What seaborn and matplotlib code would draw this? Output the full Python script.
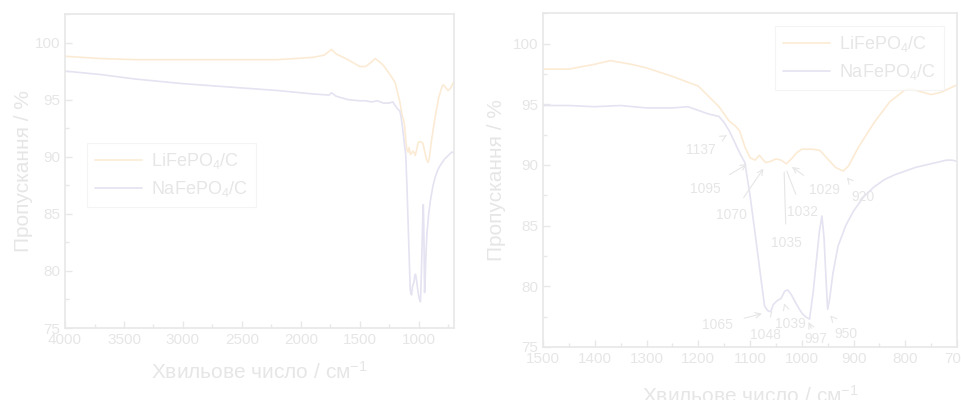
import matplotlib
matplotlib.use("Agg")
import matplotlib.pyplot as plt
import seaborn as sns
import pandas as pd
from matplotlib.ticker import MultipleLocator

# ---------------- data ----------------
li_wn = [4000, 3700, 3400, 3000, 2600, 2200, 1900, 1800, 1740, 1700,
         1600, 1500, 1450, 1400, 1370, 1330, 1300, 1250, 1200, 1160,
         1140, 1128, 1120, 1110, 1100, 1090, 1082, 1070, 1060, 1050, 1040,
         1030, 1020, 1010, 1000, 980, 965, 950, 935, 920, 910,
         890, 860, 830, 800, 790, 775, 750, 730, 700]
li_t = [98.8, 98.6, 98.5, 98.5, 98.5, 98.5, 98.7, 98.9, 99.4, 99.0,
        98.5, 97.9, 97.9, 98.3, 98.6, 98.3, 98.0, 97.3, 96.5, 94.8,
        93.6, 93.2, 92.8, 91.5, 90.6, 90.4, 90.8, 90.2, 90.3, 90.5, 90.4,
        90.1, 90.5, 91.0, 91.3, 91.3, 91.2, 90.5, 89.8, 89.5, 89.9,
        91.5, 93.5, 95.2, 96.2, 96.3, 96.1, 95.8, 96.0, 96.6]

na_wn = [4000, 3700, 3400, 3000, 2600, 2200, 1900, 1760, 1740, 1700,
         1600, 1500, 1450, 1400, 1350, 1300, 1250, 1220, 1200, 1180,
         1160, 1150, 1140, 1130, 1120, 1110, 1100, 1090, 1080, 1072,
         1066, 1060, 1055, 1048, 1040, 1033, 1027, 1020, 1010, 1000,
         993, 985, 978, 972, 966, 961, 957, 953, 950, 946,
         940, 930, 915, 900, 880, 860, 840, 820, 800, 780,
         760, 740, 720, 710, 700]
na_t = [97.5, 97.2, 96.8, 96.4, 96.1, 95.8, 95.5, 95.4, 95.6, 95.3,
        95.0, 94.9, 94.9, 94.8, 94.9, 94.7, 94.7, 94.8, 94.5, 94.2,
        94.0, 93.5, 92.8, 91.9, 91.0, 90.2, 87.5, 84.3, 81.0, 78.4,
        78.0, 77.9, 78.5, 78.8, 79.0, 79.6, 79.7, 79.3, 78.5, 77.8,
        77.5, 77.3, 79.5, 82.0, 84.5, 85.8, 84.0, 80.5, 78.1, 79.0,
        81.0, 83.3, 85.0, 86.2, 87.4, 88.2, 88.8, 89.2, 89.5, 89.8,
        90.0, 90.2, 90.4, 90.4, 90.3]

series_labels = ["LiFePO$_4$/C", "NaFePO$_4$/C"]
x_label = "Хвильове число / см$^{-1}$"
y_label = "Пропускання / %"

# annotations: label, text position (x, y), arrow target (x, y), arrow style
ann_labels = ["1137", "1095", "1070", "1035", "1032", "1029", "920",
              "1065", "1048", "1039", "997", "950"]
ann_text_xy = [(1195, 91.2), (1187, 88.0), (1135, 85.9), (1030, 83.6),
               (998, 86.1), (956, 87.9), (881, 87.4),
               (1163, 76.8), (1071, 75.95), (1022, 76.9), (972, 75.7), (914, 76.1)]
ann_tip_xy = [(1145, 92.45), (1106, 90.06), (1074, 89.7), (1034, 89.4),
              (1029, 89.5), (1019, 89.84), (913, 88.97),
              (1077, 77.75), (1058, 77.9), (1034, 78.6), (987, 77.06), (945, 77.6)]
ann_style = ["->", "->", "->", "-", "-", "->", "->",
             "->", "-", "->", "->", "->"]

# ---------------- style ----------------
sns.set_style("ticks")
plt.rcParams["font.family"] = ["Liberation Sans", "DejaVu Sans"]
plt.rcParams["mathtext.fontset"] = "custom"
plt.rcParams["mathtext.rm"] = "Liberation Sans"
plt.rcParams["mathtext.it"] = "Liberation Sans:italic"
plt.rcParams["mathtext.bf"] = "Liberation Sans:bold"

TXT = "#e6e6e6"
AX = "#e8e8e8"
C_LI = "#fcebd4"
C_NA = "#e5e2f1"

df_li = pd.DataFrame({"wn": li_wn, "T": li_t})
df_na = pd.DataFrame({"wn": na_wn, "T": na_t})

fig = plt.figure(figsize=(9.62, 4.0), dpi=100)
ax1 = fig.add_axes([0.0676, 0.18, 0.4044, 0.785])
ax2 = fig.add_axes([0.5645, 0.1325, 0.4303, 0.8343])


def style_axes(ax, xlim, xmaj, xmin, fs_tick):
    ax.set_xlim(*xlim)
    ax.set_ylim(75, 102.5)
    ax.xaxis.set_major_locator(MultipleLocator(xmaj))
    ax.xaxis.set_minor_locator(MultipleLocator(xmin))
    ax.yaxis.set_major_locator(MultipleLocator(5))
    ax.yaxis.set_minor_locator(MultipleLocator(2.5))
    ax.tick_params(axis="both", which="both", direction="in", colors=AX,
                   labelcolor=TXT, labelsize=fs_tick)
    ax.tick_params(axis="both", which="major", length=5, width=1)
    ax.tick_params(axis="both", which="minor", length=3, width=1)
    ax.tick_params(axis="x", which="both", top=False)
    ax.tick_params(axis="y", which="both", right=False)
    for s in ax.spines.values():
        s.set_visible(True)
        s.set_color(AX)
        s.set_linewidth(1.2)
    ax.set_xlabel(x_label, fontsize=15, color=TXT)
    ax.set_ylabel(y_label, fontsize=15, color=TXT)


for ax in (ax1, ax2):
    sns.lineplot(data=df_li, x="wn", y="T", ax=ax, color=C_LI, lw=1.2,
                 label=series_labels[0])
    sns.lineplot(data=df_na, x="wn", y="T", ax=ax, color=C_NA, lw=1.2,
                 label=series_labels[1])

style_axes(ax1, (4000, 700), 500, 250, 11)
style_axes(ax2, (1500, 700), 100, 50, 11)
ax1.xaxis.labelpad = 10
ax2.xaxis.labelpad = 14
ax1.yaxis.labelpad = 1
ax2.yaxis.labelpad = 5

for ax, anchor in ((ax1, (0.057, 0.589)), (ax2, (0.56, 0.962))):
    leg = ax.legend(loc="upper left", bbox_to_anchor=anchor, fontsize=13,
                    frameon=True, fancybox=False, handlelength=2.6,
                    borderpad=0.45, labelspacing=0.45, handletextpad=0.5,
                    borderaxespad=0)
    leg.get_frame().set_edgecolor("#f2f2f2")
    leg.get_frame().set_linewidth(0.8)
    for t in leg.get_texts():
        t.set_color(TXT)

for lab, txy, tip, st in zip(ann_labels, ann_text_xy, ann_tip_xy, ann_style):
    ax2.annotate(lab, xy=tip, xytext=txy, fontsize=10, color=TXT,
                 ha="center", va="center",
                 arrowprops=dict(arrowstyle=st, color=TXT, lw=0.8,
                                 shrinkA=6, shrinkB=0))

fig.savefig("out.png", dpi=100, facecolor="white")
